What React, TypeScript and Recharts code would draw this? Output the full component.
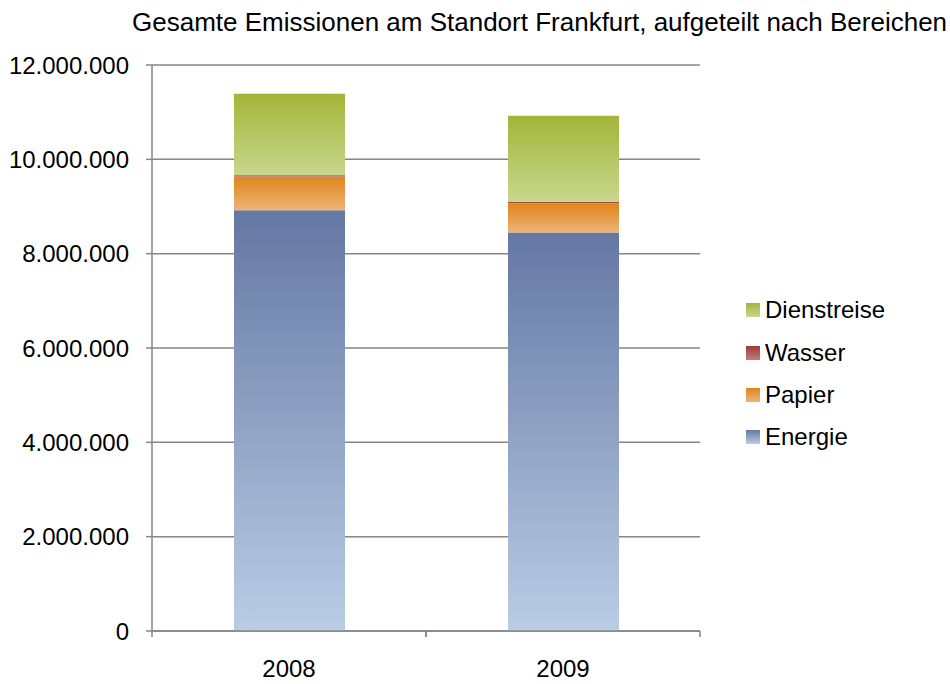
import React from "react";
import { BarChart, Bar, XAxis, YAxis, CartesianGrid } from "recharts";

const years = ["2008", "2009"];
const energie = [8920000, 8450000];
const papier = [710000, 610000];
const wasser = [30000, 35000];
const dienstreise = [1730000, 1830000];
const yTicks = [0, 2000000, 4000000, 6000000, 8000000, 10000000, 12000000];

const data = years.map((y, i) => ({
  year: y,
  Energie: energie[i],
  Papier: papier[i],
  Wasser: wasser[i],
  Dienstreise: dienstreise[i],
}));

const series = [
  { key: "Energie", top: "#6577a3", bottom: "#b9cde5" },
  { key: "Papier", top: "#e0851a", bottom: "#ecb477" },
  { key: "Wasser", top: "#9b3b36", bottom: "#c47c78" },
  { key: "Dienstreise", top: "#a2b538", bottom: "#c9d78d" },
];

const FONT = "Arial, 'Liberation Sans', sans-serif";
const AXIS = "#868686";

const fmt = (v: number) => v.toLocaleString("de-DE");

const XTick = (props: any) => {
  const { x, y, payload } = props;
  const half = payload && payload.offset ? payload.offset : 0;
  const axisY = y - 29;
  return (
    <g>
      <line x1={x - half} x2={x - half} y1={axisY} y2={axisY + 6} stroke={AXIS} strokeWidth={1.5} />
      <line x1={x + half} x2={x + half} y1={axisY} y2={axisY + 6} stroke={AXIS} strokeWidth={1.5} />
      <text x={x} y={y} dy="0.71em" textAnchor="middle" fill="#000" fontSize={24} fontFamily={FONT}>
        {payload.value}
      </text>
    </g>
  );
};

export default function App() {
  return (
    <div style={{ position: "absolute", left: 0, top: 0, width: 950, height: 684, background: "#fff" }}>
      <div
        style={{
          position: "absolute",
          left: 132,
          top: 8.5,
          fontFamily: FONT,
          fontSize: 26,
          lineHeight: "26px",
          whiteSpace: "nowrap",
          color: "#000",
        }}
      >
        Gesamte Emissionen am Standort Frankfurt, aufgeteilt nach Bereichen
      </div>
      <div
        style={{
          position: "absolute",
          left: 746,
          top: 289,
          fontFamily: FONT,
          fontSize: 24,
          color: "#000",
          zIndex: 2,
        }}
      >
        {[...series].reverse().map((s) => (
          <div key={s.key} style={{ display: "flex", alignItems: "center", height: 42.4 }}>
            <div
              style={{
                width: 14,
                height: 14,
                marginRight: 5,
                background: `linear-gradient(${s.top}, ${s.bottom})`,
              }}
            />
            <span>{s.key}</span>
          </div>
        ))}
      </div>
      <BarChart
        width={950}
        height={684}
        data={data}
        margin={{ top: 65, right: 250, bottom: 0, left: 0 }}
        barSize={111}
      >
        <defs>
          {series.map((s) => (
            <linearGradient key={s.key} id={`g-${s.key}`} x1="0" y1="0" x2="0" y2="1">
              <stop offset="0%" stopColor={s.top} />
              <stop offset="100%" stopColor={s.bottom} />
            </linearGradient>
          ))}
        </defs>
        <CartesianGrid vertical={false} stroke={AXIS} strokeWidth={1.5} />
        <XAxis
          dataKey="year"
          height={53}
          tickLine={false}
          tickSize={0}
          tickMargin={29}
          axisLine={{ stroke: AXIS, strokeWidth: 1.5 }}
          tick={<XTick />}
          interval={0}
        />
        <YAxis
          width={152}
          domain={[0, 12000000]}
          ticks={yTicks}
          interval={0}
          tickFormatter={fmt}
          tickSize={6}
          tickMargin={17}
          tickLine={{ stroke: AXIS, strokeWidth: 1.5 }}
          axisLine={{ stroke: AXIS, strokeWidth: 1.5 }}
          tick={{ fill: "#000", fontSize: 24, fontFamily: FONT }}
        />
        {series.map((s) => (
          <Bar
            key={s.key}
            dataKey={s.key}
            stackId="a"
            fill={`url(#g-${s.key})`}
            isAnimationActive={false}
          />
        ))}
      </BarChart>
    </div>
  );
}
